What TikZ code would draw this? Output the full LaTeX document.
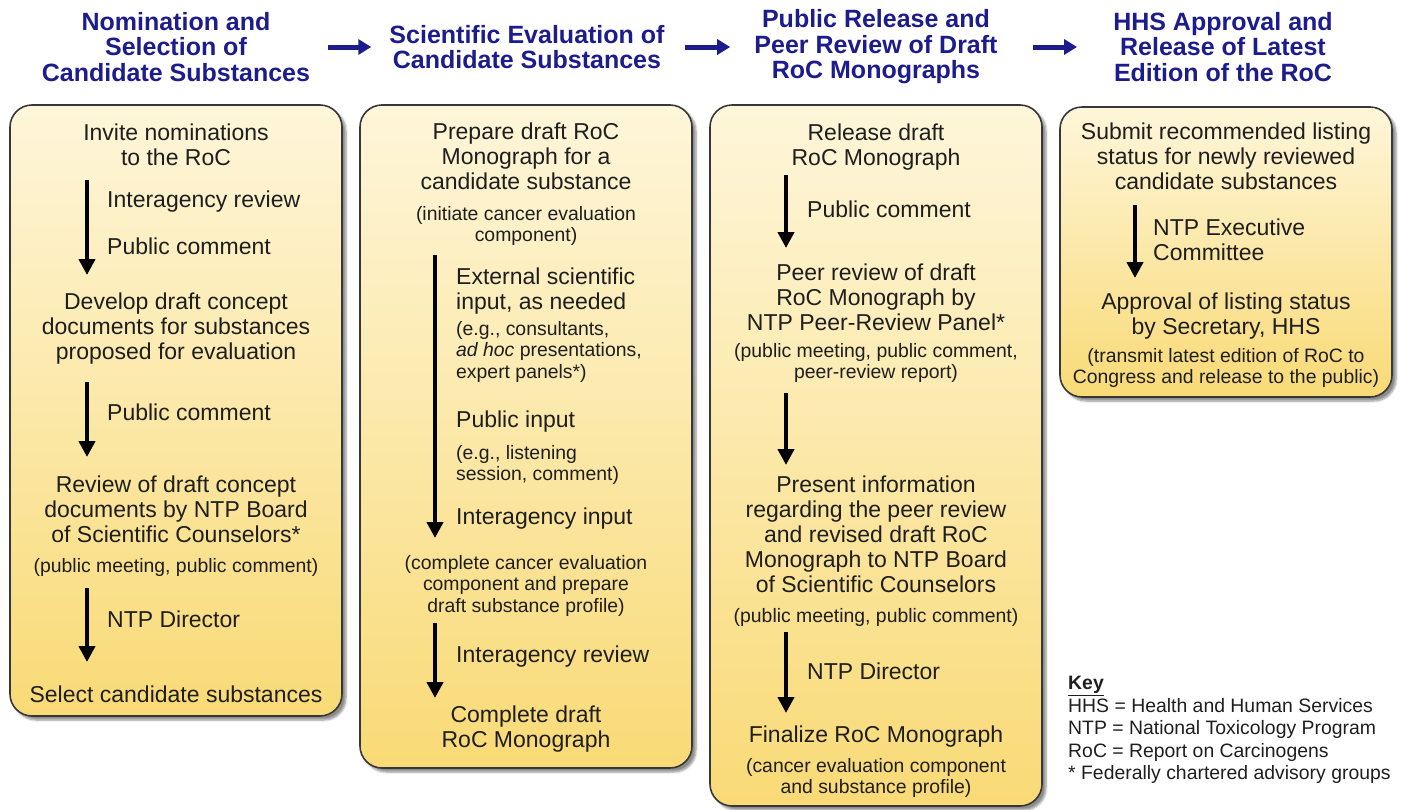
\documentclass[tikz,border=0pt]{standalone}
\usepackage{fontspec}
\setmainfont{Liberation Sans}
\usetikzlibrary{arrows.meta,shadows.blur,positioning}

\definecolor{hdrblue}{RGB}{28,28,140}
\definecolor{boxtop}{RGB}{254,246,218}
\definecolor{boxbottom}{RGB}{249,218,118}
\definecolor{boxline}{RGB}{55,55,55}
\definecolor{txt}{RGB}{30,30,30}

\tikzset{
  stagebox/.style={rounded corners=22pt, draw=boxline, line width=1.6pt,
    top color=boxtop, bottom color=boxbottom,
    blur shadow={shadow xshift=4pt, shadow yshift=-4pt, shadow blur steps=6, shadow opacity=45}},
  header/.style={text=hdrblue, font=\fontsize{25}{25.5}\selectfont\bfseries, align=center, inner sep=0pt},
  steptext/.style={text=txt, font=\fontsize{23}{25}\selectfont, align=center, inner sep=0pt, anchor=north},
  note/.style={text=txt, font=\fontsize{19.4}{21.5}\selectfont, align=center, inner sep=0pt, anchor=north},
  sidetext/.style={steptext, align=left, anchor=north west},
  sidenote/.style={note, align=left, anchor=north west},
  hdrarrow/.style={draw=hdrblue, line width=5pt, -{Triangle[width=15pt,length=13pt]}},
  flowarrow/.style={draw=black, line width=4pt, -{Triangle[width=16pt,length=16pt]}},
}

\begin{document}
\begin{tikzpicture}[x=1pt,y=-1pt]

\useasboundingbox (0,0) rectangle (1401,809);

% boxes
\foreach \x/\t/\b in {10/105/716, 360/105/768, 710/105/806, 1060/107/397} {
    \draw[stagebox] (\x,\t) rectangle (\x+332,\b);
}

% headers
\node[header] (h1) at (176,47) {Nomination and\\Selection of\\Candidate Substances};
\node[header] (h2) at (527,47) {Scientific Evaluation of\\Candidate Substances};
\node[header] (h3) at (876,47) {Public Release and\\Peer Review of Draft\\RoC Monographs};
\node[header] (h4) at (1223,47) {HHS Approval and\\Release of Latest\\Edition of the RoC};

\draw[hdrarrow, shorten <=18pt, shorten >=18pt] (h1) -- (h2);
\draw[hdrarrow, shorten <=20pt, shorten >=24pt] (h2) -- (h3);
\draw[hdrarrow, shorten <=35pt, shorten >=36pt] (h3) -- (h4);

% box 1
\node[steptext] (n1a) at (176,124) {Invite nominations\\to the RoC};
\node[sidetext] (l1a) at (107,191) {Interagency review};
\node[sidetext] (l1b) at (107,238) {Public comment};
\node[steptext] (n1b) at (176,293) {Develop draft concept\\documents for substances\\proposed for evaluation};
\node[sidetext] (l1c) at (107,404) {Public comment};
\node[steptext] (n1c) at (176,476) {Review of draft concept\\documents by NTP Board\\of Scientific Counselors*};
\node[note] (s1c) at (176,558) {(public meeting, public comment)};
\node[sidetext] (l1d) at (107,611) {NTP Director};
\node[steptext] (n1d) at (176,686) {Select candidate substances};

\coordinate (a1s) at (87,180);  \coordinate (a1e) at (87,275);
\coordinate (b1s) at (87,382);  \coordinate (b1e) at (87,457);
\coordinate (c1s) at (87,588);  \coordinate (c1e) at (87,662);
\draw[flowarrow] (a1s) -- (a1e);
\draw[flowarrow] (b1s) -- (b1e);
\draw[flowarrow] (c1s) -- (c1e);

% box 2
\node[steptext] (n2a) at (526,123) {Prepare draft RoC\\Monograph for a\\candidate substance};
\node[note] (s2a) at (526,206) {(initiate cancer evaluation\\component)};
\node[sidetext] (l2a) at (456,268) {External scientific\\input, as needed};
\node[sidenote] (m2a) at (456,321) {(e.g., consultants,\\\textit{ad hoc} presentations,\\expert panels*)};
\node[sidetext] (l2b) at (456,411) {Public input};
\node[sidenote] (m2b) at (456,445) {(e.g., listening\\session, comment)};
\node[sidetext] (l2c) at (456,508) {Interagency input};
\node[note] (s2b) at (526,555) {(complete cancer evaluation\\component and prepare\\draft substance profile)};
\node[sidetext] (l2d) at (456,646) {Interagency review};
\node[steptext] (n2b) at (526,706) {Complete draft\\RoC Monograph};

\coordinate (a2s) at (435,255);  \coordinate (a2e) at (435,538);
\coordinate (b2s) at (435,623);  \coordinate (b2e) at (435,698);
\draw[flowarrow] (a2s) -- (a2e);
\draw[flowarrow] (b2s) -- (b2e);

% box 3
\node[steptext] (n3a) at (876,124) {Release draft\\RoC Monograph};
\node[sidetext] (l3a) at (807,201) {Public comment};
\node[steptext] (n3b) at (876,264) {Peer review of draft\\RoC Monograph by\\NTP Peer-Review Panel*};
\node[note] (s3b) at (876,343) {(public meeting, public comment,\\peer-review report)};
\node[steptext] (n3c) at (876,476) {Present information\\regarding the peer review\\and revised draft RoC\\Monograph to NTP Board\\of Scientific Counselors};
\node[note] (s3c) at (876,608) {(public meeting, public comment)};
\node[sidetext] (l3b) at (807,663) {NTP Director};
\node[steptext] (n3d) at (876,726) {Finalize RoC Monograph};
\node[note] (s3d) at (876,758) {(cancer evaluation component\\and substance profile)};

\coordinate (a3s) at (786,175);  \coordinate (a3e) at (786,248);
\coordinate (b3s) at (786,393);  \coordinate (b3e) at (786,465);
\coordinate (c3s) at (786,632);  \coordinate (c3e) at (786,713);
\draw[flowarrow] (a3s) -- (a3e);
\draw[flowarrow] (b3s) -- (b3e);
\draw[flowarrow] (c3s) -- (c3e);

% box 4
\node[steptext] (n4a) at (1226,123) {Submit recommended listing\\status for newly reviewed\\candidate substances};
\node[sidetext] (l4a) at (1153,219) {NTP Executive\\Committee};
\node[steptext] (n4b) at (1226,293) {Approval of listing status\\by Secretary, HHS};
\node[note] (s4b) at (1226,348) {(transmit latest edition of RoC to\\Congress and release to the public)};

\coordinate (a4s) at (1135,205);  \coordinate (a4e) at (1135,278);
\draw[flowarrow] (a4s) -- (a4e);

% key
\node[sidenote, font=\fontsize{19.4}{22.5}\selectfont] (key) at (1068,676)
  {\textbf{\underline{Key}}\\HHS = Health and Human Services\\NTP = National Toxicology Program\\RoC = Report on Carcinogens\\* Federally chartered advisory groups};

\end{tikzpicture}
\end{document}
